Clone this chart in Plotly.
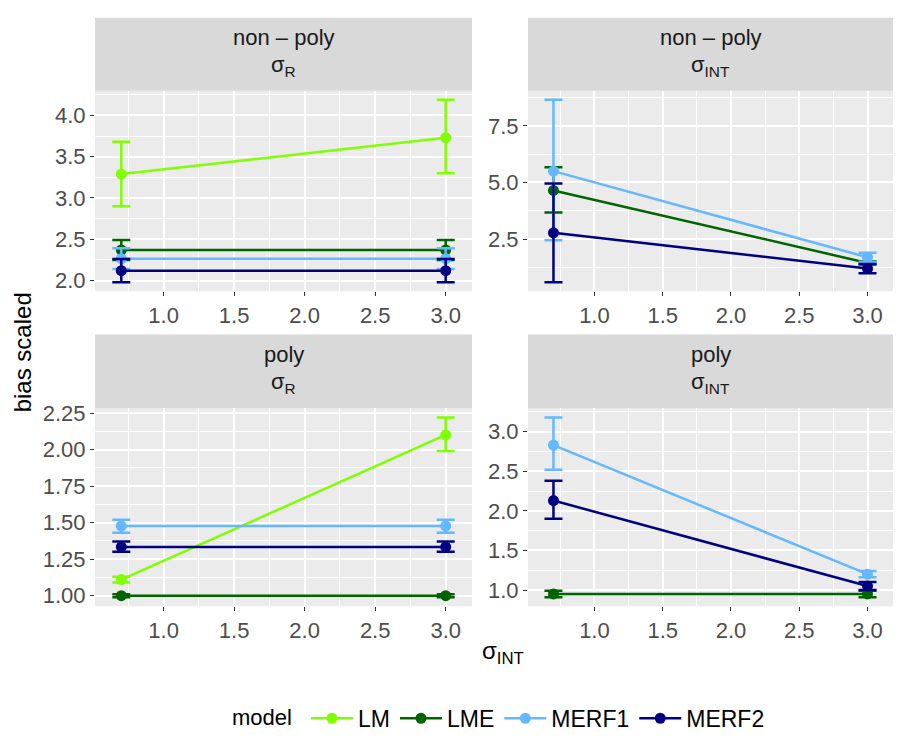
import plotly.graph_objects as go

# ---------------- data ----------------
x_vals = [0.7, 3.0]
models = ["LM", "LME", "MERF1", "MERF2"]
colors = {"LM": "#7FFF00", "LME": "#006400", "MERF1": "#63B8FF", "MERF2": "#000080"}

# non-poly, sigma_R
np_sr_LM = [3.29, 3.73];     np_sr_LM_lo = [2.90, 3.30];     np_sr_LM_hi = [3.68, 4.19]
np_sr_LME = [2.37, 2.37];    np_sr_LME_lo = [2.25, 2.25];    np_sr_LME_hi = [2.49, 2.49]
np_sr_MERF1 = [2.265, 2.265]; np_sr_MERF1_lo = [2.14, 2.14]; np_sr_MERF1_hi = [2.39, 2.39]
np_sr_MERF2 = [2.12, 2.12];  np_sr_MERF2_lo = [1.98, 1.98];  np_sr_MERF2_hi = [2.26, 2.26]

# non-poly, sigma_INT
np_int_LME = [4.65, 1.45];   np_int_LME_lo = [3.68, 1.38];   np_int_LME_hi = [5.67, 1.52]
np_int_MERF1 = [5.50, 1.70]; np_int_MERF1_lo = [2.45, 1.50]; np_int_MERF1_hi = [8.65, 1.90]
np_int_MERF2 = [2.78, 1.20]; np_int_MERF2_lo = [0.60, 1.00]; np_int_MERF2_hi = [4.95, 1.40]

# poly, sigma_R
p_sr_LM = [1.11, 2.10];      p_sr_LM_lo = [1.09, 1.99];      p_sr_LM_hi = [1.13, 2.22]
p_sr_LME = [1.00, 1.00];     p_sr_LME_lo = [0.99, 0.99];     p_sr_LME_hi = [1.01, 1.01]
p_sr_MERF1 = [1.476, 1.476]; p_sr_MERF1_lo = [1.43, 1.43];   p_sr_MERF1_hi = [1.52, 1.52]
p_sr_MERF2 = [1.334, 1.334]; p_sr_MERF2_lo = [1.30, 1.30];   p_sr_MERF2_hi = [1.37, 1.37]

# poly, sigma_INT
p_int_LME = [0.95, 0.95];    p_int_LME_lo = [0.91, 0.91];    p_int_LME_hi = [0.99, 0.99]
p_int_MERF1 = [2.83, 1.20];  p_int_MERF1_lo = [2.52, 1.16];  p_int_MERF1_hi = [3.18, 1.24]
p_int_MERF2 = [2.13, 1.05];  p_int_MERF2_lo = [1.90, 1.00];  p_int_MERF2_hi = [2.38, 1.10]

x_ticks = [1.0, 1.5, 2.0, 2.5, 3.0]
x_tick_labels = ["1.0", "1.5", "2.0", "2.5", "3.0"]
y_ticks_np_sr = [2.0, 2.5, 3.0, 3.5, 4.0]
y_ticks_np_int = [2.5, 5.0, 7.5]
y_ticks_p_sr = [1.00, 1.25, 1.50, 1.75, 2.00, 2.25]
y_ticks_p_int = [1.0, 1.5, 2.0, 2.5, 3.0]

panels = [
    ("", {"LM": (np_sr_LM, np_sr_LM_lo, np_sr_LM_hi),
          "LME": (np_sr_LME, np_sr_LME_lo, np_sr_LME_hi),
          "MERF1": (np_sr_MERF1, np_sr_MERF1_lo, np_sr_MERF1_hi),
          "MERF2": (np_sr_MERF2, np_sr_MERF2_lo, np_sr_MERF2_hi)},
     y_ticks_np_sr, "{:.1f}", "non – poly", "σ<sub>R</sub>"),
    ("2", {"LME": (np_int_LME, np_int_LME_lo, np_int_LME_hi),
           "MERF1": (np_int_MERF1, np_int_MERF1_lo, np_int_MERF1_hi),
           "MERF2": (np_int_MERF2, np_int_MERF2_lo, np_int_MERF2_hi)},
     y_ticks_np_int, "{:.1f}", "non – poly", "σ<sub>INT</sub>"),
    ("3", {"LM": (p_sr_LM, p_sr_LM_lo, p_sr_LM_hi),
           "LME": (p_sr_LME, p_sr_LME_lo, p_sr_LME_hi),
           "MERF1": (p_sr_MERF1, p_sr_MERF1_lo, p_sr_MERF1_hi),
           "MERF2": (p_sr_MERF2, p_sr_MERF2_lo, p_sr_MERF2_hi)},
     y_ticks_p_sr, "{:.2f}", "poly", "σ<sub>R</sub>"),
    ("4", {"LME": (p_int_LME, p_int_LME_lo, p_int_LME_hi),
           "MERF1": (p_int_MERF1, p_int_MERF1_lo, p_int_MERF1_hi),
           "MERF2": (p_int_MERF2, p_int_MERF2_lo, p_int_MERF2_hi)},
     y_ticks_p_int, "{:.1f}", "poly", "σ<sub>INT</sub>"),
]

# ---------------- layout geometry ----------------
W, H = 898, 740
def px_x(p): return p / W
def px_y(p): return 1 - p / H

x_dom = {"": (95, 472), "2": (528, 893), "3": (95, 472), "4": (528, 893)}
y_dom = {"": (84, 288), "2": (84, 288), "3": (407, 608), "4": (407, 608)}
strip_y = {"": (10, 84), "2": (10, 84), "3": (332, 407), "4": (332, 407)}

FAM = "Liberation Sans, Arial, sans-serif"
fig = go.Figure()
shown = set()
shapes = []
annotations = []
tick_font = dict(family=FAM, size=22, color="#4D4D4D")
strip_font = dict(family=FAM, size=22, color="#1A1A1A")
title_font = dict(family=FAM, size=24, color="#000000")
legend_font = dict(family=FAM, size=23, color="#000000")
legend_title_font = dict(family=FAM, size=22, color="#000000")

x_err_pad = 0.065
for suffix, data, yticks, fmt, s1, s2 in panels:
    for m in models:
        if m not in data:
            continue
        mean, lo, hi = data[m]
        fig.add_trace(go.Scatter(
            x=x_vals, y=mean, mode="lines+markers", name=m,
            legendgroup=m, showlegend=m not in shown,
            line=dict(color=colors[m], width=2.5),
            marker=dict(color=colors[m], size=11, symbol="circle"),
            error_y=dict(type="data", symmetric=False,
                         array=[h - v for h, v in zip(hi, mean)],
                         arrayminus=[v - l for l, v in zip(lo, mean)],
                         color=colors[m], thickness=2.5, width=9),
            xaxis="x" + suffix, yaxis="y" + suffix,
        ))
        shown.add(m)
    all_lo = min(min(v[1]) for v in data.values())
    all_hi = max(max(v[2]) for v in data.values())
    span = all_hi - all_lo
    yr = [all_lo - 0.05 * span, all_hi + 0.05 * span]
    xlo, xhi = min(x_vals) - x_err_pad, max(x_vals) + x_err_pad
    xs = xhi - xlo
    xr = [xlo - 0.05 * xs, xhi + 0.05 * xs]

    ystep = yticks[1] - yticks[0]
    xstep = x_ticks[1] - x_ticks[0]
    xd = x_dom[suffix]; yd = y_dom[suffix]
    fig.update_layout(**{
        "xaxis" + suffix: dict(
            domain=[px_x(xd[0]), px_x(xd[1])], range=xr,
            anchor="y" + suffix, tickvals=x_ticks, ticktext=x_tick_labels,
            ticks="outside", ticklen=4, tickwidth=1, tickcolor="#333333",
            showgrid=True, gridcolor="white", gridwidth=1.6, zeroline=False,
            tickfont=tick_font, showline=False,
            minor=dict(tickmode="linear", tick0=x_ticks[0] - xstep / 2, dtick=xstep,
                       showgrid=True, gridcolor="white", gridwidth=0.8, ticks=""),
        ),
        "yaxis" + suffix: dict(
            domain=[px_y(yd[1]), px_y(yd[0])], range=yr,
            anchor="x" + suffix, tickvals=yticks, ticktext=[fmt.format(t) for t in yticks],
            ticks="outside", ticklen=4, tickwidth=1, tickcolor="#333333",
            showgrid=True, gridcolor="white", gridwidth=1.6, zeroline=False,
            tickfont=tick_font, showline=False,
            minor=dict(tickmode="linear", tick0=yticks[0] - ystep / 2, dtick=ystep,
                       showgrid=True, gridcolor="white", gridwidth=0.8, ticks=""),
        ),
    })
    shapes.append(dict(type="rect", xref="paper", yref="paper", layer="below",
                       x0=px_x(xd[0]), x1=px_x(xd[1]), y0=px_y(yd[1]), y1=px_y(yd[0]),
                       fillcolor="#EBEBEB", line=dict(width=0)))
    sy = strip_y[suffix]
    shapes.append(dict(type="rect", xref="paper", yref="paper", layer="below",
                       x0=px_x(xd[0]), x1=px_x(xd[1]), y0=px_y(sy[1]), y1=px_y(sy[0]),
                       fillcolor="#D9D9D9", line=dict(width=0)))
    cx = px_x((xd[0] + xd[1]) / 2)
    annotations.append(dict(xref="paper", yref="paper", x=cx, y=px_y(sy[0] + 20),
                            text=s1, showarrow=False, font=strip_font,
                            xanchor="center", yanchor="middle"))
    annotations.append(dict(xref="paper", yref="paper", x=cx, y=px_y(sy[0] + 49),
                            text=s2, showarrow=False, font=strip_font,
                            xanchor="center", yanchor="middle"))

annotations.append(dict(xref="paper", yref="paper", x=px_x(22), y=px_y(350),
                        text="bias scaled", textangle=-90, showarrow=False,
                        font=title_font, xanchor="center", yanchor="middle"))
annotations.append(dict(xref="paper", yref="paper", x=px_x(503), y=px_y(655),
                        text="σ<sub>INT</sub>", showarrow=False,
                        font=title_font, xanchor="center", yanchor="middle"))

fig.update_layout(
    width=W, height=H, margin=dict(l=0, r=0, t=0, b=0),
    paper_bgcolor="white", plot_bgcolor="rgba(0,0,0,0)",
    shapes=shapes, annotations=annotations,
    legend=dict(orientation="h", x=px_x(500), xanchor="center", y=px_y(722), yanchor="middle",
                title=dict(text="model ", font=legend_title_font), font=legend_font,
                itemwidth=42, bgcolor="rgba(0,0,0,0)"),
)
fig.write_html("out.html", config={"displayModeBar": False},
               post_script="document.body.style.margin='0px';document.body.style.overflow='hidden';")
